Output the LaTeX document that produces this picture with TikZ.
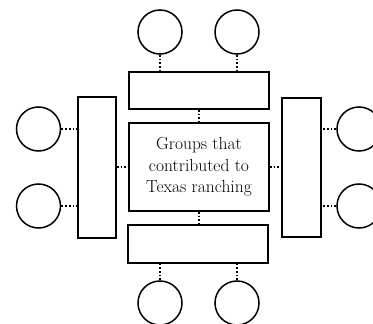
\documentclass[tikz,border=0pt]{standalone}
\usetikzlibrary{positioning}
\tikzset{box/.style={draw,line width=1.6pt,inner sep=0pt},
  blob/.style={draw,circle,line width=1.5pt,minimum size=44pt,inner sep=0pt},
  link/.style={line width=1.8pt,dotted}}
\begin{document}
\begin{tikzpicture}[x=1pt,y=-1pt]
    \useasboundingbox (0,0) rectangle (373,324);
    \node[box,minimum width=140pt,minimum height=88pt,align=center,font=\fontsize{17.5}{21.5}\selectfont]%
    (ctr) at (199,167) {Groups that\\contributed to\\Texas ranching};
    \node[box,minimum width=140pt,minimum height=37pt] (top) at (199,90.5) {};
    \node[box,minimum width=140pt,minimum height=38pt] (bot) at (198,244) {};
    \node[box,minimum width=38pt,minimum height=141pt] (lft) at (97,167.5) {};
    \node[box,minimum width=39pt,minimum height=139pt] (rgt) at (301.5,167.5) {};
    % circles
    \node[blob] (t1) at (160,32) {};
    \node[blob] (t2) at (237,32) {};
    \node[blob] (b1) at (160,303) {};
    \node[blob] (b2) at (237,303) {};
    \node[blob] (l1) at (38.5,129) {};
    \node[blob] (l2) at (38.5,206) {};
    \node[blob] (r1) at (359,129) {};
    \node[blob] (r2) at (359,206) {};
    % dotted links
    \draw[link] (top.south) -- (ctr.north);
    \draw[link] (ctr.south) -- (ctr.south |- bot.north);
    \draw[link] (lft.east |- ctr.west) -- (ctr.west);
    \draw[link] (ctr.east) -- (ctr.east -| rgt.west);
    \foreach \c in {t1,t2}{\draw[link] (\c.south) -- (\c.south |- top.north);}
    \foreach \c in {b1,b2}{\draw[link] (\c.north) -- (\c.north |- bot.south);}
    \foreach \c in {l1,l2}{\draw[link] (\c.east) -- (\c.east -| lft.west);}
    \foreach \c in {r1,r2}{\draw[link] (\c.west) -- (\c.west -| rgt.east);}
\end{tikzpicture}
\end{document}
